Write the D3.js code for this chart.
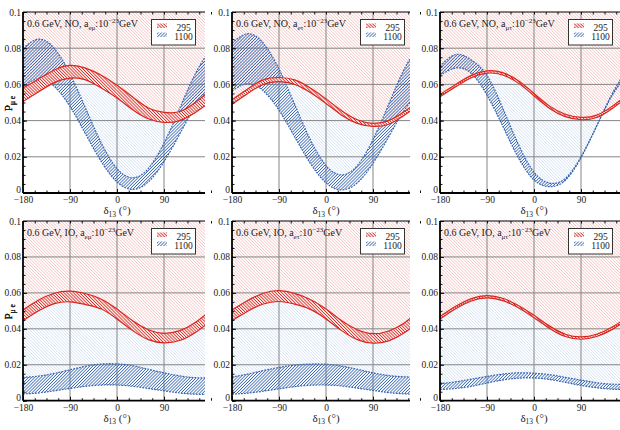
<!DOCTYPE html>
<html>
<head>
<meta charset="utf-8">
<script src="https://cdn.jsdelivr.net/npm/d3@7"></script>
<style>
body { margin: 0; background: #fff; }
text { font-family: "Liberation Serif", "Times New Roman", serif; }
</style>
</head>
<body>
<div id="graph"></div>
<script>
WIDTH = 620;
HEIGHT = 430;

// 横軸 δ13 のサンプル点
var delta = [-180, -150, -120, -90, -60, -30, 0, 30, 60, 90, 120, 150, 180];
var ordering = ["NO", "NO", "NO", "IO", "IO", "IO"];
var coupling = ["eμ", "eτ", "μτ", "eμ", "eτ", "μτ"];
var baselines = ["295", "1100"];
var xTicks = [-180, -90, 0, 90];
var yTicks = [0, 0.02, 0.04, 0.06, 0.08, 0.1];

// 295 km バンド（上端・下端）
var hi295 = [
  [0.058, 0.063, 0.068, 0.0705, 0.069, 0.065, 0.0595, 0.053, 0.047, 0.0445, 0.045, 0.050, 0.057],
  [0.0515, 0.0575, 0.0625, 0.0638, 0.0625, 0.058, 0.052, 0.0455, 0.0405, 0.0385, 0.040, 0.045, 0.0515],
  [0.0545, 0.060, 0.065, 0.0675, 0.0665, 0.062, 0.055, 0.048, 0.0435, 0.0418, 0.043, 0.048, 0.0545],
  [0.0505, 0.056, 0.0598, 0.061, 0.0595, 0.0565, 0.051, 0.0445, 0.0395, 0.0375, 0.039, 0.0435, 0.0505],
  [0.0505, 0.0558, 0.0598, 0.0612, 0.0597, 0.0563, 0.051, 0.0445, 0.0395, 0.0373, 0.0388, 0.0433, 0.0505],
  [0.0468, 0.0525, 0.0568, 0.0585, 0.057, 0.053, 0.0475, 0.0415, 0.037, 0.0355, 0.037, 0.041, 0.0468]
];
var lo295 = [
  [0.0505, 0.056, 0.061, 0.0635, 0.0625, 0.058, 0.0525, 0.046, 0.041, 0.039, 0.040, 0.0445, 0.0505],
  [0.049, 0.055, 0.060, 0.0615, 0.060, 0.0555, 0.0495, 0.043, 0.0385, 0.0368, 0.038, 0.043, 0.049],
  [0.0532, 0.0587, 0.0637, 0.0662, 0.0652, 0.0607, 0.0537, 0.0467, 0.0422, 0.0405, 0.0417, 0.0467, 0.0532],
  [0.0445, 0.050, 0.054, 0.055, 0.0535, 0.051, 0.0455, 0.039, 0.034, 0.0322, 0.0335, 0.038, 0.0445],
  [0.0445, 0.0498, 0.0538, 0.0552, 0.0537, 0.0508, 0.0455, 0.039, 0.034, 0.032, 0.0333, 0.0378, 0.0445],
  [0.0455, 0.0512, 0.0555, 0.0572, 0.0557, 0.0517, 0.0462, 0.0402, 0.0357, 0.0342, 0.0357, 0.0397, 0.0455]
];
// 1100 km バンド（上端・下端）
var hi1100 = [
  [0.0799, 0.085, 0.0799, 0.0659, 0.0467, 0.0276, 0.0135, 0.0084, 0.0135, 0.0276, 0.0467, 0.0659, 0.0799],
  [0.0828, 0.088, 0.0828, 0.0685, 0.049, 0.0295, 0.0152, 0.010, 0.0152, 0.0295, 0.049, 0.0685, 0.0828],
  [0.070, 0.0765, 0.0735, 0.065, 0.047, 0.027, 0.0115, 0.0055, 0.008, 0.020, 0.037, 0.055, 0.069],
  [0.013, 0.0137, 0.0152, 0.0172, 0.0192, 0.0204, 0.0205, 0.0195, 0.0175, 0.0155, 0.0138, 0.0128, 0.0127],
  [0.0132, 0.0148, 0.0168, 0.0185, 0.0198, 0.0204, 0.0203, 0.0193, 0.0175, 0.0155, 0.014, 0.0133, 0.0132],
  [0.0095, 0.0105, 0.012, 0.0135, 0.0148, 0.0155, 0.0153, 0.0145, 0.013, 0.0115, 0.010, 0.0092, 0.0092]
];
var lo1100 = [
  [0.0589, 0.063, 0.0589, 0.0478, 0.0325, 0.0173, 0.0061, 0.002, 0.0061, 0.0173, 0.0325, 0.0478, 0.0589],
  [0.0564, 0.0603, 0.0564, 0.0457, 0.031, 0.0164, 0.0056, 0.0017, 0.0056, 0.0164, 0.031, 0.0457, 0.0564],
  [0.065, 0.069, 0.066, 0.054, 0.037, 0.0195, 0.0072, 0.0035, 0.007, 0.0195, 0.037, 0.054, 0.066],
  [0.0038, 0.0043, 0.0055, 0.0068, 0.008, 0.0087, 0.0087, 0.008, 0.0068, 0.0055, 0.0043, 0.0036, 0.0036],
  [0.0036, 0.0042, 0.0053, 0.0066, 0.0078, 0.0086, 0.0087, 0.0082, 0.007, 0.0057, 0.0045, 0.0038, 0.0036],
  [0.0062, 0.0068, 0.008, 0.0098, 0.0115, 0.0125, 0.0126, 0.0118, 0.0102, 0.0085, 0.0072, 0.0064, 0.0062]
];

var RED = "#d7261e", BLUE = "#3766b0";

var svg = d3.select("#graph").append("svg")
  .attr("width", WIDTH).attr("height", HEIGHT);
var defs = svg.append("defs");

// ハッチング
function hatch(id, size, angle, color, w) {
  var p = defs.append("pattern").attr("id", id)
    .attr("patternUnits", "userSpaceOnUse")
    .attr("width", size).attr("height", size)
    .attr("patternTransform", "rotate(" + angle + ")");
  p.append("line").attr("x1", size / 2).attr("y1", 0).attr("x2", size / 2).attr("y2", size)
    .attr("stroke", color).attr("stroke-width", w);
}
hatch("pinkBg", 2.2, -45, "#f0b0b0", 0.55);
hatch("blueBg", 2.2, -45, "#c2d4ee", 0.5);
hatch("redBand", 2.2, -45, RED, 0.9);
hatch("blueBand", 2.2, 45, BLUE, 0.8);

var colX = [23, 232, 440], colW = [182, 178, 180];
var rowTop = [12, 221], rowBot = [193, 400.7];

for (var i = 0; i < 6; i++) drawPanel(i);

function drawPanel(i) {
  var c = i % 3, r = Math.floor(i / 3);
  var L = colX[c], T = rowTop[r], B = rowBot[r];
  var x = d3.scaleLinear().domain([-180, 180]).range([L, L + 188]);
  var y = d3.scaleLinear().domain([0, 0.1]).range([B, T]);
  var g = svg.append("g");

  defs.append("clipPath").attr("id", "clip" + i)
    .append("rect").attr("x", L).attr("y", T).attr("width", colW[c]).attr("height", B - T);
  var plot = g.append("g").attr("clip-path", "url(#clip" + i + ")");

  var idx = d3.range(delta.length);
  var curve = d3.curveNatural;
  var band = function (lo, hi) {
    return d3.area().curve(curve).x(function (k) { return x(delta[k]); })
      .y0(function (k) { return y(lo(k)); }).y1(function (k) { return y(hi(k)); });
  };
  var line = function (f) {
    return d3.line().curve(curve).x(function (k) { return x(delta[k]); })
      .y(function (k) { return y(f(k)); });
  };
  var rh = function (k) { return hi295[i][k]; }, rl = function (k) { return lo295[i][k]; };
  var bh = function (k) { return hi1100[i][k]; }, bl = function (k) { return lo1100[i][k]; };

  // 背景領域
  plot.append("path").attr("d", band(rh, function () { return 0.1; })(idx)).attr("fill", "url(#pinkBg)");
  plot.append("path").attr("d", band(bh, function (k) { return Math.max(bh(k), rl(k)); })(idx))
    .attr("fill", "url(#blueBg)");

  // グリッド
  plot.selectAll(".gx").data(xTicks.slice(1)).enter().append("line")
    .attr("x1", x).attr("x2", x).attr("y1", T).attr("y2", B)
    .attr("stroke", "#858585").attr("stroke-width", 1);
  plot.selectAll(".gy").data(yTicks.slice(1, 5)).enter().append("line")
    .attr("x1", L).attr("x2", L + 188).attr("y1", y).attr("y2", y)
    .attr("stroke", "#858585").attr("stroke-width", 1);

  // 1100 km
  plot.append("path").attr("d", band(bl, bh)(idx)).attr("fill", "url(#blueBand)");
  [bl, bh].forEach(function (f) {
    plot.append("path").attr("d", line(f)(idx)).attr("fill", "none")
      .attr("stroke", BLUE).attr("stroke-width", 1.2).attr("stroke-dasharray", "1.8,1.2");
  });

  // 295 km
  plot.append("path").attr("d", band(rl, rh)(idx)).attr("fill", "#fff");
  plot.append("path").attr("d", band(rl, rh)(idx)).attr("fill", "url(#redBand)");
  [rl, rh].forEach(function (f) {
    plot.append("path").attr("d", line(f)(idx)).attr("fill", "none")
      .attr("stroke", RED).attr("stroke-width", 1.2);
  });

  // 軸
  var minorX = d3.range(-180, 181, 22.5);
  var minorY = d3.range(0, 0.1001, 0.005);
  var ax = g.append("g").attr("transform", "translate(0," + B + ")")
    .call(d3.axisBottom(x).tickValues(xTicks).tickSize(-4).tickPadding(3.5));
  ax.select(".domain").remove();
  ax.selectAll("text").attr("font-size", 9.5).attr("fill", "#222")
    .attr("font-family", "Liberation Serif");
  g.append("g").attr("transform", "translate(0," + B + ")")
    .call(d3.axisBottom(x).tickValues(minorX).tickSize(-2.5).tickFormat(""))
    .select(".domain").remove();
  g.append("g").attr("transform", "translate(0," + T + ")")
    .call(d3.axisTop(x).tickValues(minorX).tickSize(-2.5).tickFormat(""))
    .select(".domain").remove();

  var ay = g.append("g").attr("transform", "translate(" + L + ",0)")
    .call(d3.axisLeft(y).tickValues(yTicks).tickSize(-4).tickPadding(2)
      .tickFormat(function (d) { return d === 0 ? "0" : String(d); }));
  ay.select(".domain").remove();
  ay.selectAll("text").attr("font-size", 9.5).attr("fill", "#222")
    .attr("font-family", "Liberation Serif");
  ay.selectAll("text").filter(function (d) { return d === 0; }).attr("dy", "-0.05em");
  g.append("g").attr("transform", "translate(" + L + ",0)")
    .call(d3.axisLeft(y).tickValues(minorY).tickSize(-2.5).tickFormat(""))
    .select(".domain").remove();
  g.selectAll(".tick line").attr("stroke", "#111");

  // 枠
  g.append("line").attr("x1", L).attr("x2", L).attr("y1", T).attr("y2", B)
    .attr("stroke", "#000").attr("stroke-width", 1.8);
  g.append("line").attr("x1", L).attr("x2", L + colW[c]).attr("y1", B).attr("y2", B)
    .attr("stroke", "#000").attr("stroke-width", 1.8);
  g.append("line").attr("x1", L).attr("x2", L + colW[c]).attr("y1", T).attr("y2", T)
    .attr("stroke", "#000").attr("stroke-width", 1.2);

  // 軸ラベル
  var xl = g.append("text").attr("x", x(0)).attr("y", B + 21)
    .attr("text-anchor", "middle").attr("font-size", 11).attr("fill", "#222");
  xl.append("tspan").text("δ");
  xl.append("tspan").attr("font-size", 7.5).attr("dy", 2.5).text("13");
  xl.append("tspan").attr("dy", -2.5).text(" (°)");

  var yl = g.append("text").attr("transform", "translate(12," + ((T + B) / 2 + 1) + ") rotate(-90)")
    .attr("text-anchor", "middle").attr("font-size", 11).attr("fill", "#222");
  yl.append("tspan").text("P");
  yl.append("tspan").attr("font-size", 7.5).attr("dy", 2.5).text("μ e");

  // タイトル
  var tt = g.append("text").attr("x", L + 4).attr("y", T + 15)
    .attr("font-size", 10).attr("fill", "#222");
  tt.append("tspan").text("0.6 GeV, " + ordering[i] + ", a");
  tt.append("tspan").attr("font-size", 7).attr("dy", 2.5).text(coupling[i]);
  tt.append("tspan").attr("dy", -2.5).text(":10");
  tt.append("tspan").attr("font-size", 7).attr("dy", -4).text("−23");
  tt.append("tspan").attr("dy", 4).text("GeV");

  // 凡例
  var lg = g.append("g").attr("transform", "translate(" + (L + 128.5) + "," + (T + 7.5) + ")");
  lg.append("rect").attr("width", 44).attr("height", 25.5)
    .attr("fill", "#fff").attr("stroke", "#333").attr("stroke-width", 1);
  var sw = ["url(#redBand)", "url(#blueBand)"];
  baselines.forEach(function (b, k) {
    lg.append("rect").attr("x", 5.5).attr("y", 4 + k * 9).attr("width", 10).attr("height", 4.5)
      .attr("fill", sw[k]);
    lg.append("text").attr("x", 32).attr("y", 11.5 + k * 9).attr("text-anchor", "middle")
      .attr("font-size", 9.5).attr("fill", "#222").text(b);
  });
}
</script>
</body>
</html>
